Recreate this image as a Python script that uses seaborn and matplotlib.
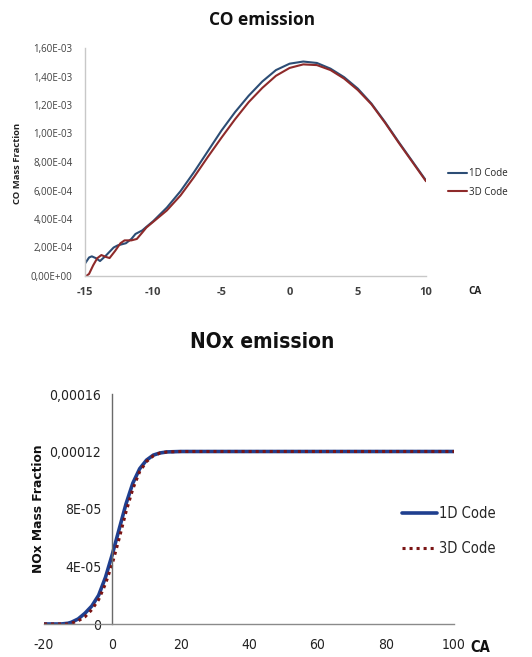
import matplotlib
matplotlib.use("Agg")
import matplotlib.pyplot as plt
import seaborn as sns
import pandas as pd
from matplotlib.ticker import FuncFormatter
from matplotlib import font_manager

sns.set_theme(style="white")
plt.rcParams['font.family'] = ['Open Sans', 'DejaVu Sans']
plt.rcParams['axes.unicode_minus'] = False

# ---------------- data ----------------
co_ca_1d = [-15, -14.7, -14.5, -14.2, -13.9, -13.5, -12.9, -12.6, -12.0, -11.6, -11.3, -10.8,
            -10.5, -10, -9, -8, -7, -6, -5, -4, -3, -2, -1, 0, 1, 2, 3, 4, 5, 6, 7, 8, 9, 10]
co_1d = [0.87e-4, 1.3e-4, 1.38e-4, 1.25e-4, 1.05e-4, 1.4e-4, 2.0e-4, 2.15e-4, 2.3e-4, 2.6e-4,
         2.95e-4, 3.2e-4, 3.45e-4, 3.85e-4, 4.8e-4, 5.95e-4, 7.3e-4, 8.75e-4, 10.2e-4, 11.5e-4,
         12.65e-4, 13.65e-4, 14.45e-4, 14.9e-4, 15.05e-4, 14.95e-4, 14.55e-4, 13.95e-4, 13.15e-4,
         12.1e-4, 10.8e-4, 9.4e-4, 8.05e-4, 6.7e-4]
co_ca_3d = [-14.9, -14.7, -14.4, -14.1, -13.8, -13.5, -13.2, -12.8, -12.4, -12.1, -11.6, -11.2,
            -10.8, -10.5, -10, -9, -8, -7, -6, -5, -4, -3, -2, -1, 0, 1, 2, 3, 4, 5, 6, 7, 8, 9, 10]
co_3d = [0.0, 0.15e-4, 0.75e-4, 1.25e-4, 1.47e-4, 1.35e-4, 1.26e-4, 1.75e-4, 2.3e-4, 2.5e-4,
         2.5e-4, 2.6e-4, 3.05e-4, 3.4e-4, 3.8e-4, 4.6e-4, 5.65e-4, 6.95e-4, 8.35e-4, 9.7e-4,
         11.0e-4, 12.2e-4, 13.2e-4, 14.05e-4, 14.6e-4, 14.85e-4, 14.8e-4, 14.45e-4, 13.85e-4,
         13.05e-4, 12.05e-4, 10.75e-4, 9.35e-4, 8.0e-4, 6.65e-4]
co_yticks = [0, 2e-4, 4e-4, 6e-4, 8e-4, 10e-4, 12e-4, 14e-4, 16e-4]
co_xticks = [-15, -10, -5, 0, 5, 10]

nox_ca = [-20, -15, -13, -12, -10, -8, -6, -4, -2, 0, 2, 4, 6, 8, 10, 12, 14, 16, 20,
          30, 40, 50, 60, 70, 80, 90, 100]
nox_1d = [0, 0, 0.05e-5, 0.12e-5, 0.35e-5, 0.75e-5, 1.25e-5, 2.0e-5, 3.25e-5, 4.85e-5, 6.6e-5,
          8.35e-5, 9.8e-5, 10.8e-5, 11.4e-5, 11.75e-5, 11.9e-5, 11.97e-5, 12.0e-5,
          12.0e-5, 12.0e-5, 12.0e-5, 12.0e-5, 12.0e-5, 12.0e-5, 12.0e-5, 12.0e-5]
nox_3d = [0, 0, 0.0, 0.05e-5, 0.22e-5, 0.5e-5, 1.0e-5, 1.7e-5, 2.8e-5, 4.2e-5, 5.95e-5,
          7.8e-5, 9.4e-5, 10.6e-5, 11.3e-5, 11.7e-5, 11.9e-5, 11.97e-5, 12.0e-5,
          12.0e-5, 12.0e-5, 12.0e-5, 12.0e-5, 12.0e-5, 12.0e-5, 12.0e-5, 12.0e-5]
nox_yticks = [0, 4e-5, 8e-5, 12e-5, 16e-5]
nox_yticklabels = ["0", "4E-05", "8E-05", "0,00012", "0,00016"]
nox_xticks = [-20, 0, 20, 40, 60, 80, 100]

labels = ["1D Code", "3D Code"]

co_df1 = pd.DataFrame({"CA": co_ca_1d, "val": co_1d})
co_df3 = pd.DataFrame({"CA": co_ca_3d, "val": co_3d})
nox_df = pd.DataFrame({"CA": nox_ca, "d1": nox_1d, "d3": nox_3d})

W, H = 532, 657
fig = plt.figure(figsize=(W / 100, H / 100), dpi=100)

# narrow font for the lower chart (Calibri-like)
narrow_fp = font_manager.FontProperties(family=['DejaVu Sans'], stretch='condensed', size=10)
narrow_leg = font_manager.FontProperties(family=['DejaVu Sans'], stretch='condensed', size=10.5)
narrow_bold = font_manager.FontProperties(family=['DejaVu Sans'], stretch='condensed',
                                          weight='bold', size=15)

# ---------------- CO chart ----------------
ax1 = fig.add_axes([85 / W, 1 - 276 / H, 341 / W, 228 / H])
blue1 = "#2c4d75"
red1 = "#8e2a2a"
sns.lineplot(data=co_df1, x="CA", y="val", ax=ax1, color=blue1, lw=1.5, label=labels[0])
sns.lineplot(data=co_df3, x="CA", y="val", ax=ax1, color=red1, lw=1.5, label=labels[1])
ax1.set_xlim(-15, 10)
ax1.set_ylim(0, 1.6e-3)
ax1.set_xticks(co_xticks)
ax1.set_yticks(co_yticks)
ax1.yaxis.set_major_formatter(FuncFormatter(lambda v, p: f"{v:.2E}".replace('.', ',')))
ax1.tick_params(axis='y', length=0, labelsize=7, colors="#404040", pad=9)
ax1.tick_params(axis='x', length=0, labelsize=8, colors="#404040", pad=8)
for t in ax1.get_xticklabels():
    t.set_fontweight('bold')
for s in ['top', 'right']:
    ax1.spines[s].set_visible(False)
for s in ['left', 'bottom']:
    ax1.spines[s].set_color("#c8c8c8")
    ax1.spines[s].set_linewidth(1.0)
ax1.set_xlabel("")
ax1.set_ylabel("")
fig.text(18 / W, 1 - 163 / H, "CO Mass Fraction", rotation=90, ha='center', va='center',
         fontsize=6.8, fontweight='bold', color="#222222")
fig.text(475 / W, 1 - 292 / H, "CA", ha='center', va='center', fontsize=7.2,
         fontweight='bold', color="#222222")
fig.text(262 / W, 1 - 20 / H, "CO emission", ha='center', va='center', fontsize=12.5,
         fontweight='bold', color="#111111")
ax1.legend(loc='center left', bbox_to_anchor=(448 / W, 1 - 183 / H), bbox_transform=fig.transFigure,
           frameon=False, fontsize=7, handlelength=2.0, handletextpad=0.2, labelspacing=0.75,
           borderpad=0, borderaxespad=0)

# ---------------- NOx chart ----------------
ax2 = fig.add_axes([44 / W, 1 - 624 / H, 410 / W, 230 / H])
blue2 = "#1f3f8f"
red2 = "#7a1414"
sns.lineplot(data=nox_df, x="CA", y="d1", ax=ax2, color=blue2, lw=2.6, label=labels[0])
sns.lineplot(data=nox_df, x="CA", y="d3", ax=ax2, color=red2, lw=2.2, ls=(0, (1, 1.3)),
             label=labels[1])
ax2.set_xlim(-20, 100)
ax2.set_ylim(0, 1.6e-4)
ax2.set_xticks(nox_xticks)
ax2.set_yticks(nox_yticks)
ax2.set_yticklabels(nox_yticklabels)
ax2.spines['left'].set_position(('data', 0))
for s in ['top', 'right']:
    ax2.spines[s].set_visible(False)
ax2.spines['left'].set_color("#6a6a6a")
ax2.spines['bottom'].set_color("#8a8a8a")
ax2.spines['left'].set_linewidth(1.0)
ax2.spines['bottom'].set_linewidth(1.0)
ax2.tick_params(axis='y', length=0, pad=8)
ax2.tick_params(axis='x', length=0, pad=10)
for t in ax2.get_xticklabels() + ax2.get_yticklabels():
    t.set_fontproperties(narrow_fp)
    t.set_color("#222222")
ax2.set_xlabel("")
ax2.set_ylabel("")
fig.text(38 / W, 1 - 509 / H, "NOx Mass Fraction", rotation=90, ha='center', va='center',
         fontsize=8.8, fontweight='bold', color="#111111", family=['DejaVu Sans'])
fig.text(480 / W, 1 - 648 / H, "CA", ha='center', va='center', fontsize=10.5,
         fontweight='bold', color="#111111", fontstretch='condensed', family=['DejaVu Sans'])
fig.text(262 / W, 1 - 342 / H, "NOx emission", ha='center', va='center',
         fontproperties=narrow_bold, color="#111111")
leg2 = ax2.legend(loc='center left', bbox_to_anchor=(402 / W, 1 - 531 / H),
                  bbox_transform=fig.transFigure, frameon=False, prop=narrow_leg,
                  handlelength=2.4, handletextpad=0.15, labelspacing=1.35, borderpad=0,
                  borderaxespad=0)

fig.savefig("out.png", dpi=100, facecolor="white")
